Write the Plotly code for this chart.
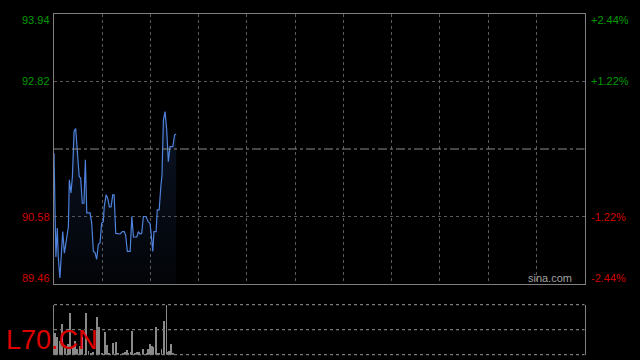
import plotly.graph_objects as go

# ---- data ----
SESSION_MIN = 225          # length of the trading session (minutes)
PREV_CLOSE = 91.70
Y_TICKS = [89.46, 90.58, 92.82, 93.94]
Y_LABELS = ["89.46", "90.58", "92.82", "93.94"]
PCT_LABELS = ["-2.44%", "-1.22%", "+1.22%", "+2.44%"]

PRICE_T = [0, 0.8, 1.4, 1.8, 2.5, 3.3, 3.7, 4.4, 5.4, 6.1,
           6.5, 7.2, 7.8, 8.5, 9.2, 9.9, 10.7, 11.3, 12.0, 12.7,
           13.3, 13.9, 15.3, 16.0, 16.7, 17.4, 18.1, 18.8, 19.5, 20.2,
           20.9, 21.3, 22.1, 22.8, 23.5, 24.2, 24.9, 25.5, 26.2, 28.0,
           29.0, 29.8, 30.4, 31.1, 32.3, 33.0, 33.7, 35.1, 35.8, 36.5,
           37.2, 37.9, 39.0, 40.0, 40.7, 41.2, 41.9, 42.4, 43.3, 43.8,
           44.6, 45.3, 45.8, 46.4, 47.1, 47.8, 48.5, 49.2, 50.4, 51.1,
           51.8]
PRICES = [91.63, 89.91, 90.39, 89.92, 89.56, 90.00, 90.33, 89.97, 90.19, 90.41,
          91.19, 90.97, 91.24, 91.99, 92.04, 91.68, 91.24, 91.22, 90.80, 90.80,
          91.52, 90.64, 90.64, 90.47, 90.00, 89.98, 89.87, 90.12, 90.14, 90.47,
          90.49, 90.74, 90.94, 90.88, 90.74, 90.74, 90.94, 90.94, 90.30, 90.29,
          90.33, 90.33, 90.27, 90.00, 90.00, 90.58, 90.24, 90.24, 90.33, 90.29,
          90.30, 90.58, 90.58, 90.49, 90.47, 90.30, 90.00, 90.33, 90.33, 90.69,
          90.69, 91.07, 91.27, 92.18, 92.32, 92.02, 91.49, 91.74, 91.74, 91.93,
          91.95]

VOL_T = [0.4, 1.4, 2.5, 3.5, 4.7, 5.8, 6.8, 7.9, 8.9, 9.9,
         11.0, 12.0, 13.7, 14.6, 15.7, 16.7, 18.3, 19.2, 20.2, 21.8,
         22.6, 23.5, 25.2, 26.4, 27.3, 29.4, 30.1, 30.9, 31.5, 32.7,
         33.2, 34.4, 35.1, 36.2, 37.9, 39.3, 40.0, 40.7, 41.5, 42.1,
         43.1, 44.0, 44.7, 45.6, 46.8, 47.7, 48.5, 48.9, 49.8, 50.6,
         51.4]
VOLS = [45, 36, 29, 63, 19, 23, 85, 16, 29, 13,
        19, 36, 85, 9, 3, 6, 77, 56, 3, 46,
        21, 3, 24, 26, 3, 3, 6, 11, 3, 6,
        48, 3, 6, 6, 13, 3, 13, 23, 19, 16,
        56, 3, 3, 13, 69, 100, 6, 9, 23, 3,
        1]

SYMBOL = "L70.CN"
WATERMARK = "sina.com"

# ---- styling ----
BG = "#000000"
GRID = "#5a5a5a"
BORDER = "#808080"
GREEN = "#009a00"
RED = "#d00000"
FONT = "Liberation Sans, Arial, sans-serif"

X_DOM = [54 / 640, 584.5 / 640]
P_DOM = [(360 - 284) / 360, (360 - 14) / 360]
V_DOM = [(360 - 354.7) / 360, (360 - 304.7) / 360]

ymin, ymax = Y_TICKS[0], Y_TICKS[-1]
vmax = max(VOLS)

fig = go.Figure()

fig.add_trace(go.Scatter(
    x=PRICE_T, y=PRICES, mode="lines",
    line=dict(color="#4f82dc", width=1.2),
    fill="tozeroy",
    fillgradient=dict(type="vertical", start=ymin, stop=max(PRICES),
                      colorscale=[[0, "rgba(40,70,130,0.06)"],
                                  [1, "rgba(40,70,130,0.28)"]]),
    hoverinfo="skip", xaxis="x", yaxis="y"))

fig.add_trace(go.Bar(
    x=VOL_T, y=VOLS, width=0.36,
    marker=dict(color="#8a8a8a", line=dict(width=0)),
    hoverinfo="skip", xaxis="x2", yaxis="y2"))

grid_x = [SESSION_MIN * i / 11 for i in range(1, 11)]

fig.update_layout(
    width=640, height=360,
    margin=dict(l=0, r=0, t=0, b=0),
    paper_bgcolor=BG, plot_bgcolor=BG,
    showlegend=False,
    bargap=0,
    xaxis=dict(domain=X_DOM, range=[0, SESSION_MIN], tickvals=grid_x,
               showticklabels=False, showgrid=True, gridcolor=GRID,
               griddash="dot", gridwidth=1, zeroline=False,
               showline=True, linecolor=BORDER, linewidth=1, mirror=True,
               ticks="", anchor="y"),
    yaxis=dict(domain=P_DOM, range=[ymin, ymax], tickvals=[Y_TICKS[1], Y_TICKS[2]],
               showticklabels=False, showgrid=True, gridcolor=GRID,
               griddash="dot", gridwidth=1, zeroline=False,
               showline=True, linecolor=BORDER, linewidth=1, mirror=True,
               ticks="", anchor="x"),
    xaxis2=dict(domain=X_DOM, range=[0, SESSION_MIN], showticklabels=False,
                showgrid=False, zeroline=False, showline=False, ticks="",
                anchor="y2"),
    yaxis2=dict(domain=V_DOM, range=[0, vmax], showticklabels=False,
                showgrid=False, zeroline=False, showline=True,
                linecolor=BORDER, linewidth=1, mirror=True, ticks="",
                anchor="x2"),
)

shapes = [
    dict(type="line", xref="x domain", yref="y", x0=0, x1=1,
         y0=PREV_CLOSE, y1=PREV_CLOSE,
         line=dict(color="#8c8c8c", width=1, dash="dashdot")),
]
for frac in (0, 0.5, 1):
    shapes.append(dict(type="line", xref="x2 domain", yref="y2 domain",
                       x0=0, x1=1, y0=frac, y1=frac,
                       line=dict(color="#7a7a7a", width=1.2, dash="dot")))
fig.update_layout(shapes=shapes)

annotations = []
for i, (v, lab, pct) in enumerate(zip(Y_TICKS, Y_LABELS, PCT_LABELS)):
    col = GREEN if v > PREV_CLOSE else RED
    if i == 0:
        anchor, shift = "bottom", -2
    elif i == len(Y_TICKS) - 1:
        anchor, shift = "top", 2
    else:
        anchor, shift = "middle", 0
    annotations.append(dict(x=X_DOM[0] - 2 / 640, xref="paper", y=v, yref="y",
                            text=lab, showarrow=False, xanchor="right",
                            yanchor=anchor, yshift=shift,
                            font=dict(family=FONT, size=11, color=col)))
    annotations.append(dict(x=X_DOM[1] + 4 / 640, xref="paper", y=v, yref="y",
                            text=pct, showarrow=False, xanchor="left",
                            yanchor=anchor, yshift=shift,
                            font=dict(family=FONT, size=11, color=col)))

annotations.append(dict(x=574 / 640, xref="paper", y=ymin, yref="y",
                        text=WATERMARK, showarrow=False, xanchor="right",
                        yanchor="bottom", yshift=-2,
                        font=dict(family=FONT, size=11, color="#a0a0a0")))
annotations.append(dict(x=4 / 640, xref="paper", y=(360 - 340) / 360, yref="paper",
                        text=SYMBOL, showarrow=False, xanchor="left",
                        yanchor="middle",
                        font=dict(family=FONT, size=27, color="#dd0000")))
fig.update_layout(annotations=annotations)

fig.write_html("out.html")
